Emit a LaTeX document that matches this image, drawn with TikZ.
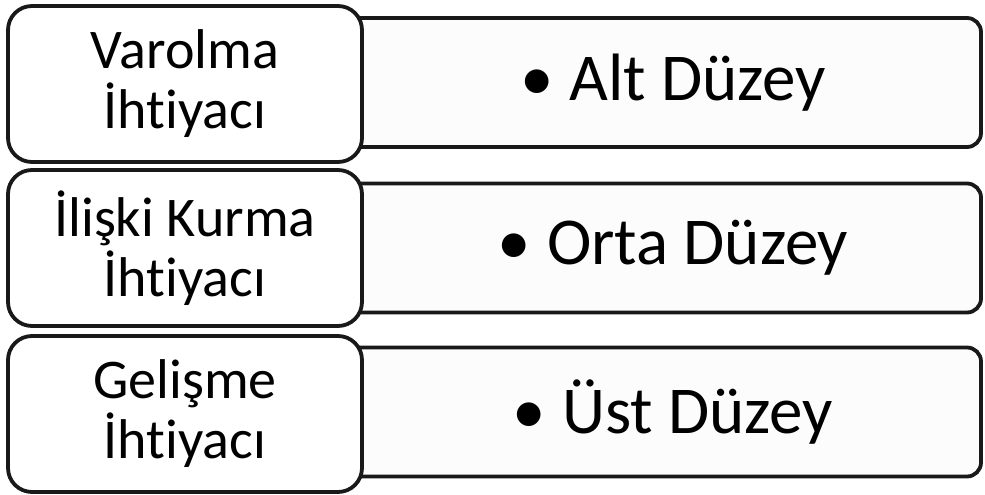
\documentclass[tikz,border=0pt]{standalone}
\usepackage{fontspec}
\setmainfont[Ligatures=NoCommon]{Carlito}
\newcommand{\lvlbullet}{•\hspace{16pt}}
\begin{document}
\begin{tikzpicture}[x=1pt,y=-1pt,
  needbox/.style={draw=black!90, line width=3.8pt, fill=white,
    rounded corners=24pt, minimum width=354pt, minimum height=156pt,
    align=center, inner sep=0pt,
    font=\fontsize{56}{60}\selectfont},
  levelbar/.style={draw=black!90, line width=3.8pt, fill=black!1,
    rounded corners=14pt, minimum width=681pt, minimum height=129pt,
    inner sep=0pt},
  levellabel/.style={inner sep=0pt, font=\fontsize{67}{70}\selectfont}]
\useasboundingbox (0,0) rectangle (985,495);

% level bars, drawn first so the need boxes cover their left ends
\node[levelbar] (bar1) at (640.5,82.5) {};
\node[levelbar] (bar2) at (640.5,248) {};
\node[levelbar] (bar3) at (640.5,412) {};

% need boxes
\node[needbox] (need1) at (185,84) {Varolma\\İhtiyacı};
\node[needbox] (need2) at (185,248) {İlişki Kurma\\İhtiyacı};
\node[needbox] (need3) at (185,414) {Gelişme\\İhtiyacı};

% level labels
\coordinate (labx) at (673,0);
\node[levellabel] (lab1) at (bar1 -| labx) {\lvlbullet Alt Düzey};
\node[levellabel] (lab2) at (bar2 -| labx) {\lvlbullet Orta Düzey};
\node[levellabel] (lab3) at (bar3 -| labx) {\lvlbullet Üst Düzey};
\end{tikzpicture}
\end{document}
